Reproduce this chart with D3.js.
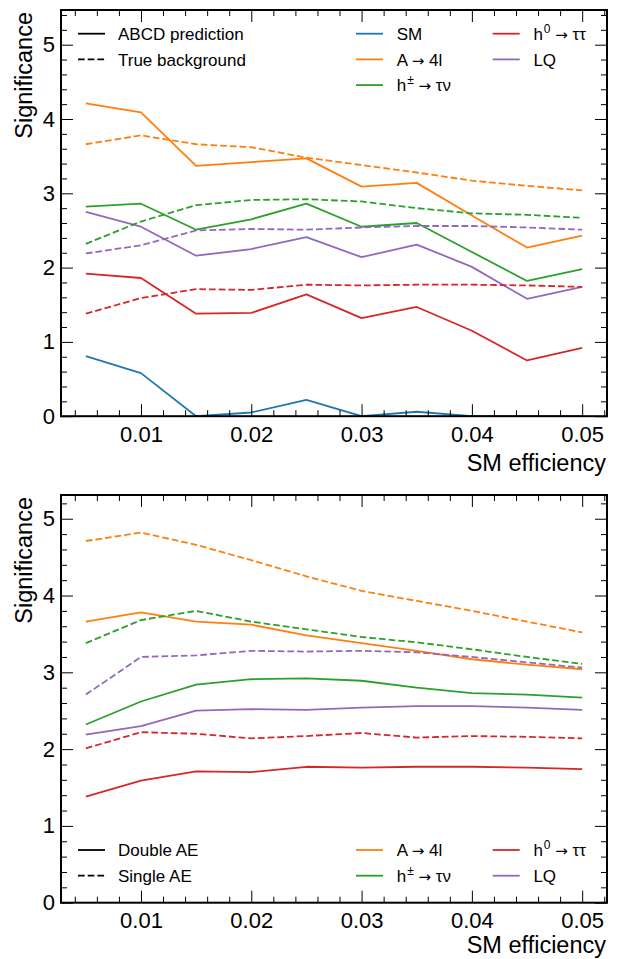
<!DOCTYPE html>
<html><head><meta charset="utf-8">
<script src="https://cdn.jsdelivr.net/npm/d3@7"></script>
<style>
body{margin:0;background:#fff}
text{font-family:"Liberation Sans",Arial,Helvetica,sans-serif;fill:#000}
</style>
</head><body>
<svg id="c" width="618" height="959"></svg>
<script>
// ---------------- data ----------------
const smEff = [0.005,0.01,0.015,0.02,0.025,0.03,0.035,0.04,0.045,0.05];
const xTickVals = [0.01,0.02,0.03,0.04,0.05];
const xTickLabels = ["0.01","0.02","0.03","0.04","0.05"];
const yTickVals = [0,1,2,3,4,5];
const yTickLabels = ["0","1","2","3","4","5"];

// Top panel: ABCD prediction (solid)
const abcdSM   = [0.81,0.58,0.00,0.05,0.22,0.00,0.06,0.00,0.00,0.00];
const abcdA4l  = [4.21,4.09,3.37,3.42,3.47,3.09,3.14,2.70,2.27,2.43];
const abcdHpm  = [2.82,2.86,2.51,2.65,2.86,2.55,2.60,2.21,1.82,1.98];
const abcdH0   = [1.92,1.86,1.38,1.39,1.64,1.32,1.47,1.15,0.75,0.92];
const abcdLQ   = [2.75,2.55,2.16,2.25,2.41,2.14,2.31,2.01,1.58,1.74];
// Top panel: true background (dashed) == bottom panel: Double AE (solid)
const trueA4l  = [3.66,3.78,3.66,3.62,3.48,3.38,3.28,3.17,3.10,3.04];
const trueHpm  = [2.32,2.62,2.84,2.91,2.92,2.89,2.80,2.73,2.71,2.67];
const trueH0   = [1.38,1.59,1.71,1.70,1.77,1.76,1.77,1.77,1.76,1.74];
const trueLQ   = [2.19,2.30,2.50,2.52,2.51,2.54,2.56,2.56,2.54,2.51];
// Bottom panel: Single AE (dashed)
const singleA4l = [4.71,4.82,4.66,4.46,4.25,4.06,3.93,3.80,3.66,3.52];
const singleHpm = [3.38,3.68,3.80,3.66,3.56,3.46,3.39,3.30,3.20,3.11];
const singleH0  = [2.01,2.22,2.20,2.14,2.17,2.21,2.15,2.17,2.16,2.14];
const singleLQ  = [2.71,3.20,3.22,3.28,3.27,3.28,3.26,3.20,3.13,3.06];

const seriesNames = ["SM","A \u2192 4l","h^{\u00b1} \u2192 \u03c4\u03bd","h^{0} \u2192 \u03c4\u03c4","LQ"];
const seriesColors = ["#1f77b4","#ff7f0e","#2ca02c","#d62728","#9467bd"];
const styleLabelsTop = ["ABCD prediction","True background"];
const styleLabelsBottom = ["Double AE","Single AE"];
const xLabel = "SM efficiency";
const yLabel = "Significance";

// ---------------- layout ----------------
const svg = d3.select("#c");
const L = 61, R = 607;
const DASH = "6.7,3";
const LW = 1.8;

const panels = [
  { top:10, bottom:416.2, ymax:5.467, xlabY:470.5,
    lines:[
      {y:abcdSM, c:0, dash:false},
      {y:abcdA4l, c:1, dash:false},
      {y:abcdHpm, c:2, dash:false},
      {y:abcdH0, c:3, dash:false},
      {y:abcdLQ, c:4, dash:false},
      {y:trueA4l, c:1, dash:true},
      {y:trueHpm, c:2, dash:true},
      {y:trueH0, c:3, dash:true},
      {y:trueLQ, c:4, dash:true}
    ],
    styleLegend:{labels:styleLabelsTop, y0:33.7},
    seriesLegend:{idx:[0,1,2,3,4], y0:33.7}
  },
  { top:495, bottom:902.7, ymax:5.309, xlabY:953,
    lines:[
      {y:trueA4l, c:1, dash:false},
      {y:trueHpm, c:2, dash:false},
      {y:trueH0, c:3, dash:false},
      {y:trueLQ, c:4, dash:false},
      {y:singleA4l, c:1, dash:true},
      {y:singleHpm, c:2, dash:true},
      {y:singleH0, c:3, dash:true},
      {y:singleLQ, c:4, dash:true}
    ],
    styleLegend:{labels:styleLabelsBottom, y0:850},
    seriesLegend:{idx:[1,2,3,4], y0:850}
  }
];

function addPlain(sel, s){
  // render arrows with DejaVu Sans (mathtext-like arrow)
  s.split(/(\u2192)/).forEach(part=>{
    if(!part) return;
    const ts = sel.append("tspan").text(part);
    if(part === "\u2192") ts.attr("font-family","DejaVu Sans").attr("font-size",15);
  });
}
function addLabel(sel, str){
  const re = /\^\{([^}]*)\}/g;
  let last = 0, m;
  while((m = re.exec(str)) !== null){
    if(m.index > last) addPlain(sel, str.slice(last, m.index));
    sel.append("tspan").attr("font-size",12).attr("dy",-7).attr("dx",1).text(m[1]);
    sel.append("tspan").attr("dy",7).text(" ");
    last = re.lastIndex;
  }
  if(last < str.length) addPlain(sel, str.slice(last).replace(/^ /,""));
}

panels.forEach((p, pi) => {
  const x = d3.scaleLinear().domain([0.00275, 0.05225]).range([L, R]);
  const y = d3.scaleLinear().domain([0, p.ymax]).range([p.bottom, p.top]);
  const g = svg.append("g");
  const clipId = "clip"+pi;
  svg.append("clipPath").attr("id", clipId).append("rect")
    .attr("x", L).attr("y", p.top).attr("width", R-L).attr("height", p.bottom-p.top);

  // lines
  const line = d3.line().x((d,i)=>x(smEff[i])).y(d=>y(d));
  g.append("g").attr("clip-path","url(#"+clipId+")")
    .selectAll("path").data(p.lines).join("path")
    .attr("d", d=>line(d.y))
    .attr("fill","none")
    .attr("stroke", d=>seriesColors[d.c])
    .attr("stroke-width", LW)
    .attr("stroke-dasharray", d=>d.dash?DASH:null)
    .attr("stroke-linejoin","round");

  // axes (ticks inward)
  const xMinor = d3.range(0.004, 0.0525, 0.002).filter(v=>!xTickVals.some(t=>Math.abs(t-v)<1e-9));
  const yMinor = d3.range(0, p.ymax, 0.2).filter(v=>Math.abs(v-Math.round(v))>1e-6);
  const fmtX = (d,i)=>xTickLabels[i];
  const fmtY = (d,i)=>yTickLabels[i];

  const axes = [
    {a:d3.axisBottom(x).tickValues(xTickVals).tickFormat(fmtX).tickSize(-12).tickPadding(10), t:`translate(0,${p.bottom})`},
    {a:d3.axisBottom(x).tickValues(xMinor).tickFormat("").tickSize(-6), t:`translate(0,${p.bottom})`},
    {a:d3.axisTop(x).tickValues(xTickVals).tickFormat("").tickSize(-12), t:`translate(0,${p.top})`},
    {a:d3.axisTop(x).tickValues(xMinor).tickFormat("").tickSize(-6), t:`translate(0,${p.top})`},
    {a:d3.axisLeft(y).tickValues(yTickVals).tickFormat(fmtY).tickSize(-12).tickPadding(6), t:`translate(${L},0)`},
    {a:d3.axisLeft(y).tickValues(yMinor).tickFormat("").tickSize(-6), t:`translate(${L},0)`},
    {a:d3.axisRight(y).tickValues(yTickVals).tickFormat("").tickSize(-12), t:`translate(${R},0)`},
    {a:d3.axisRight(y).tickValues(yMinor).tickFormat("").tickSize(-6), t:`translate(${R},0)`}
  ];
  axes.forEach(ax=>{
    const ag = g.append("g").attr("transform", ax.t).call(ax.a.tickSizeOuter(0));
    ag.select(".domain").remove();
    ag.selectAll(".tick line").attr("stroke","#000").attr("stroke-width",1);
    ag.selectAll(".tick text").attr("font-size",22).attr("font-family",'"Liberation Sans",Arial,sans-serif').attr("fill","#000");
  });

  // frame
  g.append("rect").attr("x",L).attr("y",p.top).attr("width",R-L).attr("height",p.bottom-p.top)
    .attr("fill","none").attr("stroke","#000").attr("stroke-width",2);

  // axis labels
  g.append("text").attr("x",R-1).attr("y",p.xlabY).attr("text-anchor","end")
    .attr("font-size",23.5).text(xLabel);
  g.append("text").attr("transform",`translate(31.5,${p.top+2}) rotate(-90)`)
    .attr("text-anchor","end").attr("font-size",23.5).text(yLabel);

  // style legend
  const sl = g.append("g");
  p.styleLegend.labels.forEach((lab,i)=>{
    const yy = p.styleLegend.y0 + i*25.7;
    sl.append("line").attr("x1",78).attr("x2",105).attr("y1",yy).attr("y2",yy)
      .attr("stroke","#000").attr("stroke-width",LW).attr("stroke-dasharray", i===1?DASH:null);
    sl.append("text").attr("x",118).attr("y",yy).attr("dy","0.36em").attr("font-size",17).text(lab);
  });

  // series legend (2 columns, column-major)
  const idx = p.seriesLegend.idx;
  const nrows = Math.ceil(idx.length/2);
  idx.forEach((si,k)=>{
    const col = Math.floor(k/nrows), row = k%nrows;
    const lx = col===0 ? 356 : 492.7;
    const yy = p.seriesLegend.y0 + row*25.7;
    sl.append("line").attr("x1",lx).attr("x2",lx+27).attr("y1",yy).attr("y2",yy)
      .attr("stroke",seriesColors[si]).attr("stroke-width",LW);
    const t = sl.append("text").attr("x",lx+40.7).attr("y",yy+6.1).attr("font-size",17);
    addLabel(t, seriesNames[si]);
  });
});
</script>
</body></html>
